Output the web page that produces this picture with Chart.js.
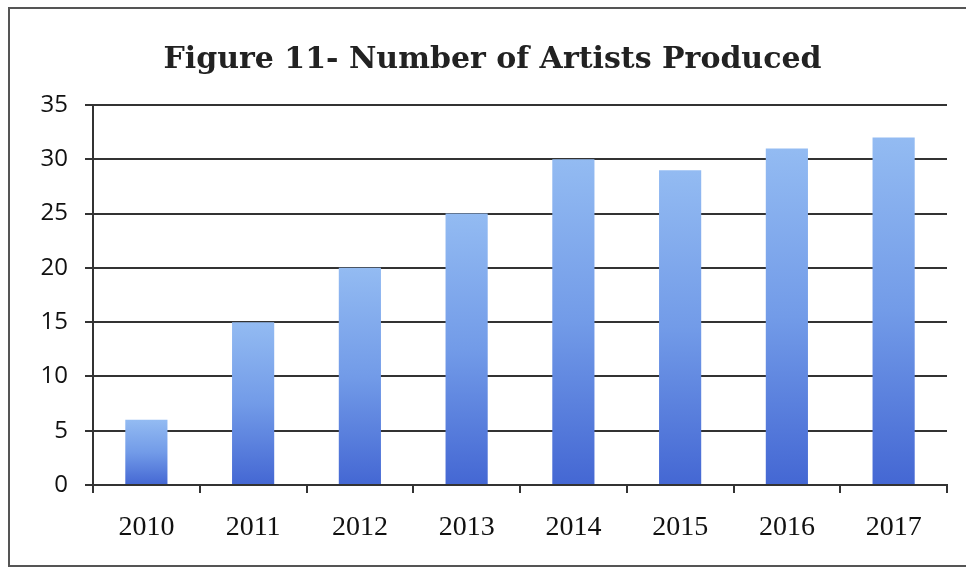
<!DOCTYPE html>
<html>
<head>
<meta charset="utf-8">
<script src="https://cdn.jsdelivr.net/npm/chart.js@4.4.1/dist/chart.umd.min.js"></script>
<style>
    html, body { margin: 0; padding: 0; background: #fff; }
    .frame {
        position: absolute; left: 8px; top: 7px; width: 980px; height: 556px;
        border: 2px solid #555;
    }
    #artistsChart { position: absolute; left: 0; top: 0; }
</style>
</head>
<body>
<div class="frame"></div>
<canvas id="artistsChart" width="966" height="567"></canvas>
<script>
// Artists produced per year
const years = ['2010', '2011', '2012', '2013', '2014', '2015', '2016', '2017'];
const artists = [6, 15, 20, 25, 30, 29, 31, 32];
const yTicks = [0, 5, 10, 15, 20, 25, 30, 35];

const lineColor = '#333';

document.addEventListener('DOMContentLoaded', function () {
    const canvas = document.getElementById('artistsChart');

    // Each bar gets its own light-to-dark vertical gradient
    function barFill(ctx) {
        const chart = ctx.chart;
        if (!chart.chartArea) return '#6f98e6';
        const y = chart.scales.y;
        const top = y.getPixelForValue(ctx.raw);
        const bottom = y.getPixelForValue(0);
        const g = chart.ctx.createLinearGradient(0, top, 0, bottom);
        g.addColorStop(0, '#93bbf2');
        g.addColorStop(0.5, '#729be8');
        g.addColorStop(1, '#4467d3');
        return g;
    }

    new Chart(canvas, {
        type: 'bar',
        data: {
            labels: years,
            datasets: [{
                label: 'Artists',
                data: artists,
                backgroundColor: barFill,
                borderWidth: 0,
                barPercentage: 1,
                categoryPercentage: 0.395
            }]
        },
        options: {
            responsive: false,
            animation: false,
            // left padding shifts the title centre; the y axis width makes up the rest
            layout: { padding: { left: 38, right: 19, top: 0, bottom: 0 } },
            plugins: {
                legend: { display: false },
                tooltip: { enabled: false },
                title: {
                    display: true,
                    text: 'Figure 11- Number of Artists Produced',
                    color: '#222',
                    font: { family: 'DejaVu Serif', size: 30, weight: 'bold' },
                    padding: { top: 42, bottom: 27 }
                }
            },
            scales: {
                y: {
                    min: 0,
                    max: 35,
                    afterBuildTicks: function (scale) {
                        scale.ticks = yTicks.map(function (v) { return { value: v }; });
                    },
                    afterFit: function (scale) { scale.width = 55; },
                    grid: { color: lineColor, lineWidth: 2, tickLength: 8, drawTicks: true },
                    border: { display: true, color: lineColor, width: 2 },
                    ticks: {
                        color: '#111',
                        padding: 17,
                        font: { family: 'Open Sans', size: 24 }
                    }
                },
                x: {
                    afterFit: function (scale) { scale.height = 82; },
                    grid: {
                        offset: true,
                        drawOnChartArea: false,
                        drawTicks: true,
                        tickLength: 8,
                        color: lineColor,
                        lineWidth: 2
                    },
                    border: { display: true, color: lineColor, width: 2 },
                    ticks: {
                        color: '#111',
                        padding: 18,
                        font: { family: 'Liberation Serif', size: 28 }
                    }
                }
            }
        }
    });
});
</script>
</body>
</html>
